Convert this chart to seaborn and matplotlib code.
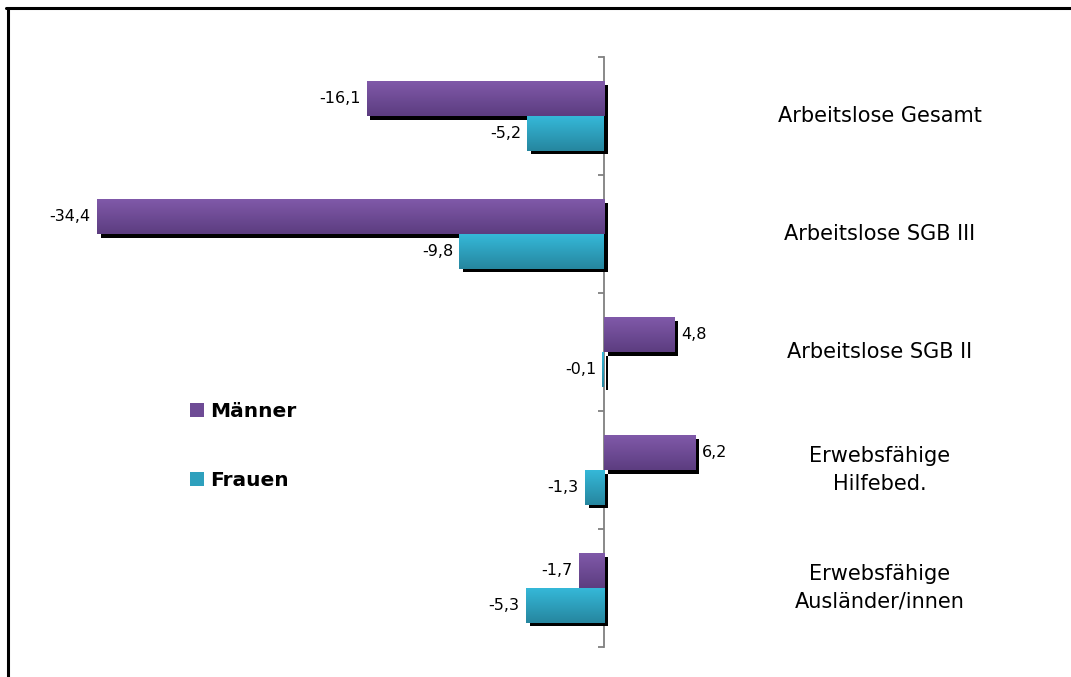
import numpy as np
import pandas as pd
import matplotlib
matplotlib.use("Agg")
import matplotlib.pyplot as plt
import matplotlib.patheffects as pe
from matplotlib.patches import Patch
from matplotlib.lines import Line2D
import seaborn as sns

categories = ["Arbeitslose Gesamt", "Arbeitslose SGB III", "Arbeitslose SGB II",
              "Erwebsfähige\nHilfebed.", "Erwebsfähige\nAusländer/innen"]
maenner = [-16.1, -34.4, 4.8, 6.2, -1.7]
frauen = [-5.2, -9.8, -0.1, -1.3, -5.3]
series = ["Männer", "Frauen"]

purple_top, purple_bot = "#8059a9", "#5c3d80"
cyan_top, cyan_bot = "#35b8d8", "#26869f"
colors = {"Männer": "#6e4b95", "Frauen": "#2ea0bd"}
grads = {"Männer": (purple_top, purple_bot), "Frauen": (cyan_top, cyan_bot)}

df = pd.DataFrame({
    "cat": categories * 2,
    "val": maenner + frauen,
    "series": [series[0]] * len(categories) + [series[1]] * len(categories),
})

sns.set_style("white")
plt.rcParams["font.family"] = ["DejaVu Sans"]
plt.rcParams["text.color"] = "black"

fig = plt.figure(figsize=(10.71, 6.77), dpi=100)
ax = fig.add_axes([40 / 1071, 30 / 677, 960 / 1071, 590 / 677])

sns.barplot(data=df, y="cat", x="val", hue="series", hue_order=series,
            palette=colors, orient="h", width=0.585, gap=0, ax=ax,
            errorbar=None, legend=False, saturation=1)

shadow = [pe.SimplePatchShadow(offset=(2.7, -2.7), shadow_rgbFace="black", alpha=1.0), pe.Normal()]

for cont, name in zip(ax.containers, series):
    top, bot = grads[name]
    cmap = matplotlib.colors.LinearSegmentedColormap.from_list("g", [top, bot])
    grad = np.linspace(0, 1, 64).reshape(-1, 1)
    for patch in cont.patches:
        patch.set_path_effects(shadow)
        patch.set_edgecolor("none")
        x0 = patch.get_x()
        x1 = x0 + patch.get_width()
        y0 = patch.get_y()
        y1 = y0 + patch.get_height()
        ymin, ymax = min(y0, y1), max(y0, y1)
        im = ax.imshow(grad, cmap=cmap, extent=(min(x0, x1), max(x0, x1), ymax, ymin),
                       origin="upper", aspect="auto", interpolation="bilinear",
                       zorder=patch.get_zorder() + 0.01)
        im.set_clip_path(patch)
    for patch, v in zip(cont.patches, [maenner, frauen][series.index(name)]):
        yc = patch.get_y() + patch.get_height() / 2
        txt = f"{v:.1f}".replace(".", ",")
        if v < 0:
            ax.annotate(txt, (v, yc), xytext=(-4.5, 0), textcoords="offset points",
                        ha="right", va="center", fontsize=11.5, color="black")
        else:
            ax.annotate(txt, (v, yc), xytext=(5, 0), textcoords="offset points",
                        ha="left", va="center", fontsize=11.5, color="black")

ax.set_xlim(-38.26, 26.87)
ax.set_ylim(4.5, -0.5)

for i, c in enumerate(categories):
    ax.text(18.7, i, c, ha="center", va="center", fontsize=15, linespacing=1.45, color="black")

for s in ["top", "right", "bottom"]:
    ax.spines[s].set_visible(False)
ax.spines["left"].set_position(("data", 0))
ax.spines["left"].set_color("#808080")
ax.spines["left"].set_linewidth(1.3)
ax.spines["left"].set_zorder(0.5)
ax.set_yticks(np.arange(-0.5, 5.0, 1.0))
ax.set_yticklabels([])
ax.tick_params(axis="y", direction="out", length=4.5, width=1.3, color="#808080", left=True)
ax.set_xticks([])
ax.set_xlabel("")
ax.set_ylabel("")

handles = [Patch(facecolor=colors[s], edgecolor="none") for s in series]
fig.legend(handles, series, loc="center left", bbox_to_anchor=(190 / 1071, 1 - 446 / 677),
           bbox_transform=fig.transFigure, frameon=False, prop={"weight": "bold", "size": 14.5},
           handlelength=0.68, handleheight=0.68, handletextpad=0.3, labelspacing=2.45,
           borderpad=0, borderaxespad=0)

fig.add_artist(Line2D([7.5 / 1071, 7.5 / 1071], [0, 1 - 7.5 / 677], transform=fig.transFigure,
                      color="black", lw=2.2))
fig.add_artist(Line2D([7.5 / 1071 - 0.001, 1], [1 - 7.5 / 677, 1 - 7.5 / 677], transform=fig.transFigure,
                      color="black", lw=2.2))

fig.savefig("out.png", dpi=100, facecolor="white")
